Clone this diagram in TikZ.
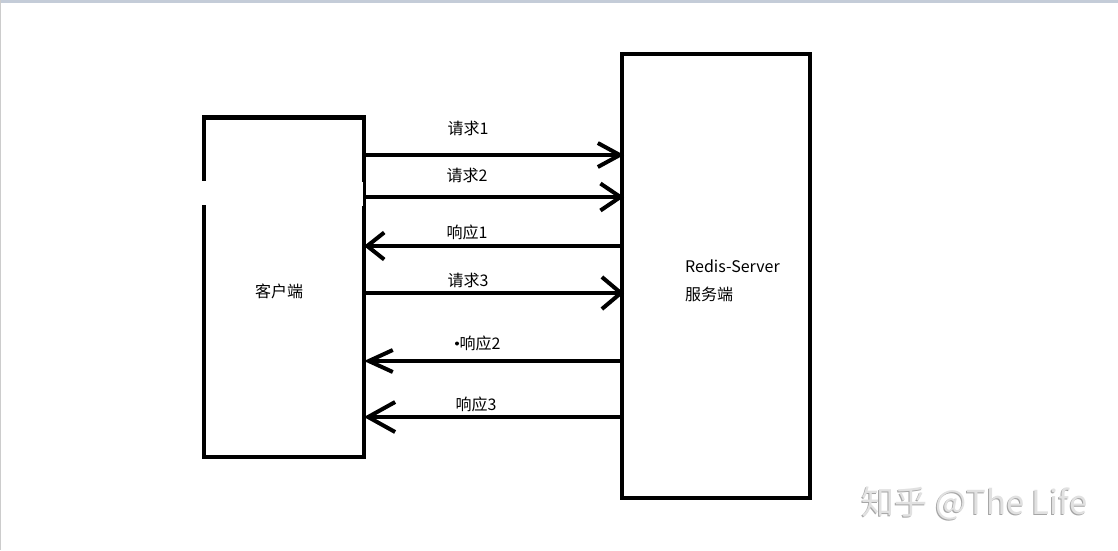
\documentclass[tikz,border=0pt]{standalone}
\usepackage{fontspec}
\setmainfont{Noto Sans CJK SC}
\usetikzlibrary{arrows.meta}
\definecolor{topbar}{RGB}{196,204,216}
\definecolor{wmlight}{RGB}{225,225,225}
\definecolor{wmdark}{RGB}{165,165,165}
\begin{document}
\begin{tikzpicture}[x=1pt,y=-1pt,
  box/.style={draw=black, line width=4.5pt, inner sep=0pt, outer sep=0pt, fill=none},
  conn/.style={draw=black, line width=4pt},
  lbl/.style={inner sep=0pt, font=\fontsize{16}{16}\selectfont},
]
\useasboundingbox (0,0) rectangle (1118,550);
\fill[white] (0,0) rectangle (1118,550);
\fill[topbar] (0,0) rectangle (1118,3);
\fill[gray!40] (0,0) rectangle (1.2,550);

% boxes
\node[box, minimum width=160pt, minimum height=339.5pt] (C) at (284,287.25) {};
\node[box, minimum width=188pt, minimum height=444pt] (S) at (716,276) {};
% gaps in client box edges
\fill[white] (199,181) rectangle (209,205);
\fill[white] (359,182) rectangle (362.5,206);

% labels in boxes
\node[lbl] (ct) at (279,291) {客户端};
\node[lbl, anchor=west, align=left, font=\fontsize{16}{28}\selectfont] (st) at (685,281) {Redis-Server\\服务端};

% levels
\coordinate (y1) at (0,155);
\coordinate (y2) at (0,197);
\coordinate (y3) at (0,246);
\coordinate (y4) at (0,293);
\coordinate (y5) at (0,361);
\coordinate (y6) at (0,417);

\draw[conn, shorten >=-2pt, -{Straight Barb[length=22pt,width=24pt]}] (C.east |- y1) -- (S.west |- y1);
\draw[conn, shorten >=-2pt, -{Straight Barb[length=20pt,width=27pt]}] (C.east |- y2) -- (S.west |- y2);
\draw[conn, -{Straight Barb[length=17pt,width=27pt]}] (S.west |- y3) -- (C.east |- y3);
\draw[conn, shorten >=-2pt, -{Straight Barb[length=19pt,width=32pt]}] (C.east |- y4) -- (S.west |- y4);
\draw[conn, -{Straight Barb[length=24pt,width=22pt]}] (S.west |- y5) -- (C.east |- y5);
\draw[conn, -{Straight Barb[length=27pt,width=30pt]}] (S.west |- y6) -- (C.east |- y6);

% connector labels
\node[lbl] (l1) at (468,128) {请求1};
\node[lbl] (l2) at (467,175) {请求2};
\node[lbl] (l3) at (467,232) {响应1};
\node[lbl] (l4) at (468,280) {请求3};
\node[lbl] (l5) at (480,343) {响应2};
\fill[black] (457,343.5) circle (2pt);
\node[lbl] (l6) at (476,404) {响应3};

% watermark
\node[inner sep=0pt, font=\fontsize{33}{33}\selectfont, text=wmdark] (wm2) at (973.5,504) {知乎 @The Life};
\node[inner sep=0pt, font=\fontsize{33}{33}\selectfont, text=wmlight] (wm) at (974.5,503) {知乎 @The Life};
\end{tikzpicture}
\end{document}
